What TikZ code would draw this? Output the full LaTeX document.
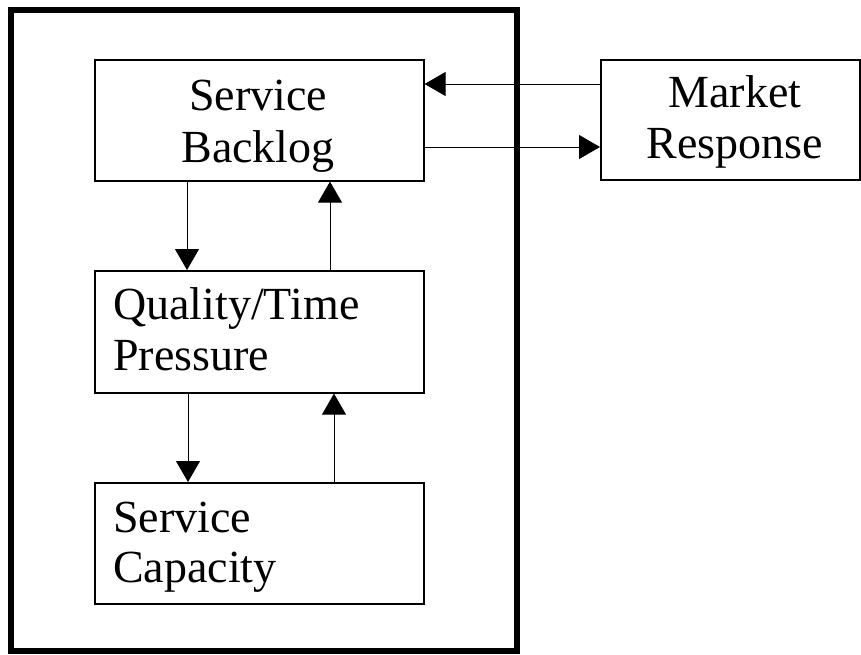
\documentclass[tikz,border=0pt]{standalone}
\usepackage{fontspec}
\setmainfont{Liberation Serif}
\usetikzlibrary{arrows.meta}
\begin{document}
\begin{tikzpicture}[x=1pt,y=-1pt,
  box/.style={draw,line width=1.6pt,inner sep=0pt,anchor=north west},
  txt/.style={font=\fontsize{46}{52}\selectfont,inner sep=0pt},
  arr/.style={line width=0.9pt,-{Triangle[length=21pt,width=24pt]}}]
\useasboundingbox (0,0) rectangle (861,654);
\draw[line width=5.5pt] (11,10) rectangle (517,651);
\node[box,minimum width=329pt,minimum height=121pt] (sb) at (94,59) {};
\node[box,minimum width=259pt,minimum height=120pt] (mr) at (600,59) {};
\node[box,minimum width=329pt,minimum height=122pt] (qt) at (94,270) {};
\node[box,minimum width=329pt,minimum height=121pt] (sc) at (94,482) {};
\node[txt,anchor=base] (sb1) at (258,110) {Service};
\node[txt,anchor=base] (sb2) at (258,162) {Backlog};
\node[txt,anchor=base] (mr1) at (735,107) {Market};
\node[txt,anchor=base] (mr2) at (735,158) {Response};
\node[txt,anchor=base west] (qt1) at (113,319) {Quality/Time};
\node[txt,anchor=base west] (qt2) at (113,370) {Pressure};
\node[txt,anchor=base west] (sc1) at (113,532) {Service};
\node[txt,anchor=base west] (sc2) at (113,582) {Capacity};
% connectors
\draw[arr] (mr.west |- 0,84) -- (sb.east |- 0,84);
\draw[arr] (sb.east |- 0,147) -- (mr.west |- 0,147);
\draw[arr] (sb.south -| 187,0) -- (qt.north -| 187,0);
\draw[arr] (qt.north -| 330,0) -- (sb.south -| 330,0);
\draw[arr] (qt.south -| 188,0) -- (sc.north -| 188,0);
\draw[arr] (sc.north -| 334,0) -- (qt.south -| 334,0);
\end{tikzpicture}
\end{document}
